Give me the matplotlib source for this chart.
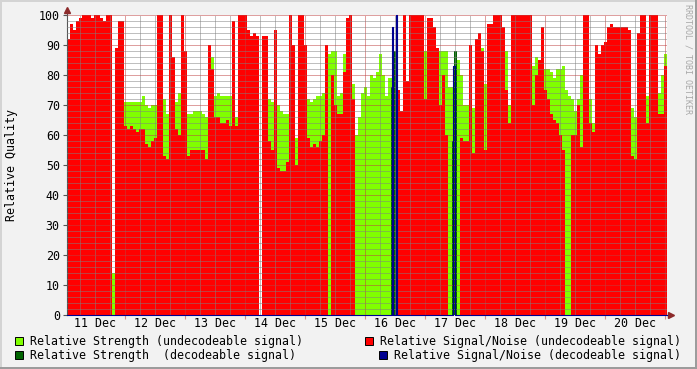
import numpy as np
import matplotlib
matplotlib.use("Agg")
import matplotlib.pyplot as plt
from matplotlib.patches import Rectangle

# hours after 11 Dec 00:00, one bin = 72 minutes
t_start = 0.8
bin_hours = 1.2
day_labels = ["11 Dec", "12 Dec", "13 Dec", "14 Dec", "15 Dec",
              "16 Dec", "17 Dec", "18 Dec", "19 Dec", "20 Dec"]

# Relative Signal/Noise (undecodeable signal), 0 = nothing there
snr_undec = [
    92, 97, 95, 98, 99, 100, 100, 100, 99, 100, 100, 99, 98, 100, 100, 0, 89, 98, 98, 63,
    62, 63, 62, 61, 62, 62, 57, 56, 58, 59, 100, 100, 53, 52, 100, 86, 62, 60, 100, 88,
    53, 55, 55, 55, 55, 55, 52, 90, 82, 66, 66, 64, 64, 65, 63, 98, 63, 100, 100, 100,
    95, 93, 94, 93, 0, 93, 93, 58, 55, 95, 49, 48, 48, 51, 100, 90, 50, 100, 100, 90,
    59, 56, 57, 56, 58, 60, 90, 0, 80, 70, 67, 67, 81, 99, 100, 72, 0, 0, 0, 0,
    0, 0, 0, 0, 0, 0, 0, 0, 0, 0, 75, 68, 100, 78, 100, 100, 100, 100, 100, 72,
    99, 99, 96, 89, 70, 80, 60, 0, 0, 74, 0, 59, 58, 58, 90, 54, 92, 94, 88, 55,
    97, 97, 100, 100, 100, 96, 75, 64, 100, 100, 100, 100, 100, 100, 100, 70, 80, 85, 96, 75,
    72, 67, 65, 64, 60, 55, 0, 0, 60, 60, 70, 56, 100, 100, 64, 61, 90, 87, 90, 91,
    96, 97, 96, 96, 96, 96, 96, 95, 53, 52, 94, 100, 100, 64, 100, 100, 100, 67, 67, 83,
]

# Relative Strength (undecodeable signal)
str_undec = [
    0, 0, 0, 0, 0, 0, 0, 0, 0, 0, 0, 0, 0, 0, 0, 14, 0, 0, 0, 71,
    71, 71, 71, 71, 71, 73, 70, 69, 70, 70, 0, 0, 72, 67, 0, 85, 71, 74, 0, 0,
    67, 67, 68, 68, 68, 67, 66, 0, 86, 73, 74, 73, 73, 73, 73, 0, 66, 0, 0, 0,
    0, 0, 0, 0, 0, 0, 0, 72, 71, 88, 70, 68, 67, 67, 0, 0, 59, 0, 0, 0,
    72, 71, 72, 73, 73, 74, 88, 87, 88, 88, 73, 74, 87, 0, 0, 77, 60, 66, 74, 76,
    73, 80, 79, 81, 87, 80, 73, 79, 79, 0, 0, 0, 0, 0, 0, 0, 0, 0, 0, 88,
    0, 0, 0, 0, 88, 88, 88, 76, 76, 86, 85, 80, 70, 70, 0, 69, 0, 0, 89, 77,
    0, 0, 0, 0, 0, 0, 88, 70, 0, 0, 0, 0, 0, 0, 0, 83, 86, 84, 0, 82,
    82, 81, 79, 82, 82, 83, 75, 73, 72, 68, 72, 80, 0, 0, 72, 64, 88, 0, 0, 0,
    0, 0, 0, 0, 0, 0, 0, 0, 69, 66, 0, 0, 0, 73, 0, 0, 0, 74, 80, 87,
]

# decodeable signal only shows up in two short windows (24 min steps)
dec_step = 0.4
dec_a_start = 130.0
str_dec_a = [0, 76, 76, 82, 88, 88, 0, 0]
snr_dec_a = [0, 0, 96, 0, 0, 0, 100, 0]
dec_b_start = 154.4
str_dec_b = [0, 58, 58, 88, 88, 88, 0, 0]
snr_dec_b = [0, 0, 83, 83, 0, 0, 0, 0]

LIME = "#80FF00"
RED = "#FF0000"
DKGREEN = "#006400"
BLUE = "#000090"
MONO = "DejaVu Sans Mono"
FS = 8.4
W, H = 697, 369

fig = plt.figure(figsize=(W / 100, H / 100), dpi=100, facecolor="#F2F2F2")
ax = fig.add_axes([67 / W, 54 / H, 600 / W, 300 / H])
ax.set_facecolor("white")

t_end = t_start + bin_hours * len(snr_undec)


def area(x0, step, vals, color):
    x = x0 + step * np.arange(len(vals) + 1)
    y = np.append(vals, vals[-1])
    ax.fill_between(x, 0, y, step="post", color=color, lw=0, antialiased=False, zorder=1)


area(t_start, bin_hours, str_undec, LIME)
area(t_start, bin_hours, snr_undec, RED)
area(dec_a_start, dec_step, str_dec_a, DKGREEN)
area(dec_b_start, dec_step, str_dec_b, DKGREEN)

# snr decodeable is a line, sits on 0 outside the windows
xs = np.concatenate([[t_start], dec_a_start + dec_step * np.arange(len(snr_dec_a)),
                     dec_b_start + dec_step * np.arange(len(snr_dec_b)), [t_end]])
ys = np.concatenate([[0], snr_dec_a, snr_dec_b, [0]])
ax.step(xs, ys, where="post", color=BLUE, lw=0.8, zorder=4, clip_on=False)

ax.set_xlim(t_start, t_end)
ax.set_ylim(0, 100)

ax.set_xticks(np.arange(24, 241, 24))
ax.set_xticks(np.arange(6, 241, 6), minor=True)
ax.set_yticks(np.arange(0, 101, 10))
ax.set_yticks(np.arange(0, 101, 2), minor=True)
ax.set_axisbelow(False)
ax.grid(which="minor", color=(0.5, 0.5, 0.5, 0.2), ls=(0, (1, 1)), lw=0.72)
ax.grid(which="major", color=(0.75, 0.25, 0.25, 0.35), ls=(0, (1, 1)), lw=0.72)

ax.tick_params(axis="x", which="major", length=3, color="#D09090", labelbottom=False)
ax.tick_params(axis="x", which="minor", length=0)
ax.tick_params(axis="y", which="major", length=3, color="#555555", pad=2.2,
               labelsize=FS, labelfontfamily=MONO)
ax.tick_params(axis="y", which="minor", length=0)

for s in ["top", "right", "bottom"]:
    ax.spines[s].set_visible(False)
ax.spines["left"].set_color("#555555")
ax.spines["left"].set_linewidth(0.8)

# axis arrows
axis_col = "#8C2A2A"
ax.plot([t_start, t_start], [100, 101.5], color="#555555", lw=0.8, clip_on=False)
ax.plot([t_start], [101.7], marker="^", ms=4.2, color=axis_col, clip_on=False)
ax.plot([t_end, 242.0], [0, 0], color=BLUE, lw=0.8, clip_on=False)
ax.plot([242.2], [0], marker=">", ms=4.2, color=axis_col, clip_on=False)

for k, lab in enumerate(day_labels):
    ax.text(12 + 24 * k, -0.028, lab, transform=ax.get_xaxis_transform(),
            ha="center", va="center", fontsize=FS, family=MONO)

fig.text(12 / W, 1 - 165 / H, "Relative Quality", rotation=90, ha="center",
         va="center", fontsize=FS, family=MONO)
fig.text(688 / W, 1 - 4 / H, "RRDTOOL / TOBI OETIKER", rotation=270, ha="center",
         va="top", fontsize=6, family=MONO, color="#A8A8A8")


def px_rect(x, y, w, h, color, **kw):
    fig.add_artist(Rectangle((x / W, 1 - (y + h) / H), w / W, h / H,
                             transform=fig.transFigure, facecolor=color, **kw))


# legend
legend = [
    (15, 341, LIME, "Relative Strength (undecodeable signal)"),
    (365, 341, RED, "Relative Signal/Noise (undecodeable signal)"),
    (15, 355, DKGREEN, "Relative Strength  (decodeable signal)"),
    (379, 355, BLUE, "Relative Signal/Noise (decodeable signal)"),
]
for x, y, col, txt in legend:
    px_rect(x, y - 4, 8, 8, col, edgecolor="black", lw=0.7)
    fig.text((x + 15) / W, 1 - y / H, txt, ha="left", va="center",
             fontsize=FS, family=MONO)

# frame
px_rect(0, 0, W, 2, "#D4D4D4", lw=0)
px_rect(0, 0, 2, H, "#D4D4D4", lw=0)
px_rect(0, H - 2, W, 2, "#9C9C9C", lw=0)
px_rect(W - 2, 0, 2, H, "#9C9C9C", lw=0)

fig.savefig("out.png", dpi=100, facecolor=fig.get_facecolor())
